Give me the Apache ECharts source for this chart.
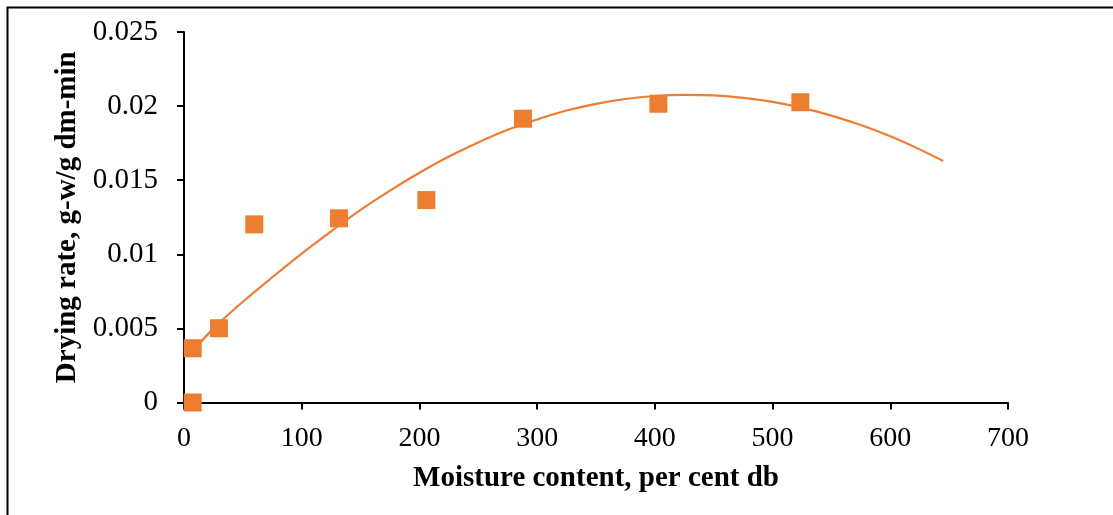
<!DOCTYPE html>
<html>
<head>
<meta charset="utf-8">
<script src="https://cdn.jsdelivr.net/npm/echarts@6/dist/echarts.min.js"></script>
<style>
  html, body { margin: 0; padding: 0; background: #fff; }
  #chart { width: 1113px; height: 515px; }
</style>
</head>
<body>
<div id="chart"></div>
<script>
// Measured drying rate against moisture content
const moisture = [7.4, 7.4, 29.7, 59.7, 131.7, 205.9, 288.0, 403.0, 523.6];
const dryingRate = [0, 0.00366, 0.00501, 0.01202, 0.01243, 0.01366, 0.01915, 0.02016, 0.02026];

// Second-order trend line, sampled along the drawn curve
const trendX = [7.4, 25, 50, 75, 100, 125, 150, 175, 200, 225, 250, 275, 300, 325,
                350, 375, 400, 425, 450, 475, 500, 525, 550, 575, 600, 625, 645];
const trendY = [0.00345, 0.00500, 0.00680, 0.00845, 0.01005, 0.01155, 0.01300, 0.01430,
                0.01550, 0.01660, 0.01755, 0.01840, 0.01910, 0.01970, 0.02015, 0.02048,
                0.02068, 0.02076, 0.02072, 0.02056, 0.02028, 0.01988, 0.01936, 0.01872,
                0.01796, 0.01708, 0.01630];

// Axis ticks
const xTicks = [0, 100, 200, 300, 400, 500, 600, 700];
const yTicks = ['0', '0.005', '0.01', '0.015', '0.02', '0.025'];

const ORANGE = '#ED7D31';
const FONT = '"Liberation Serif", "Times New Roman", serif';

const points = moisture.map((x, i) => [x, dryingRate[i]]);
const trend = trendX.map((x, i) => [x, trendY[i]]);

const chart = echarts.init(document.getElementById('chart'), null, { renderer: 'canvas' });
chart.setOption({
  backgroundColor: '#fff',
  animation: false,
  graphic: [{
    type: 'rect',
    left: 5, top: 5,
    shape: { width: 1200, height: 600 },
    style: { fill: 'none', stroke: '#000', lineWidth: 2 },
    z: 0
  }],
  grid: { left: 184, right: 105, top: 32, bottom: 112.5, containLabel: false },
  xAxis: {
    type: 'value',
    min: xTicks[0], max: xTicks[xTicks.length - 1], interval: 100,
    name: 'Moisture content, per cent db',
    nameLocation: 'middle',
    nameGap: 62,
    nameTextStyle: { fontFamily: FONT, fontSize: 29, fontWeight: 'bold', color: '#000' },
    axisLine: { lineStyle: { color: '#000', width: 2 } },
    axisTick: { show: true, length: 7, lineStyle: { color: '#000', width: 2 } },
    axisLabel: { fontFamily: FONT, fontSize: 28, color: '#000', margin: 22 },
    splitLine: { show: false }
  },
  yAxis: {
    type: 'value',
    min: 0, max: 0.025, interval: 0.005,
    name: 'Drying rate, g-w/g dm-min',
    nameLocation: 'middle',
    nameGap: 100,
    nameRotate: 90,
    nameTextStyle: { fontFamily: FONT, fontSize: 29, fontWeight: 'bold', color: '#000' },
    axisLine: { show: true, lineStyle: { color: '#000', width: 2 } },
    axisTick: { show: true, length: 7, lineStyle: { color: '#000', width: 2 } },
    axisLabel: {
      fontFamily: FONT, fontSize: 29, color: '#000', margin: 26,
      formatter: (v) => yTicks[Math.round(v / 0.005)]
    },
    splitLine: { show: false }
  },
  series: [
    {
      type: 'line',
      data: trend,
      smooth: 0.3,
      symbol: 'none',
      lineStyle: { color: ORANGE, width: 2.2 },
      z: 2
    },
    {
      type: 'scatter',
      data: points,
      symbol: 'rect',
      symbolSize: 18,
      itemStyle: { color: ORANGE, opacity: 1 },
      z: 3
    }
  ]
});
</script>
</body>
</html>
